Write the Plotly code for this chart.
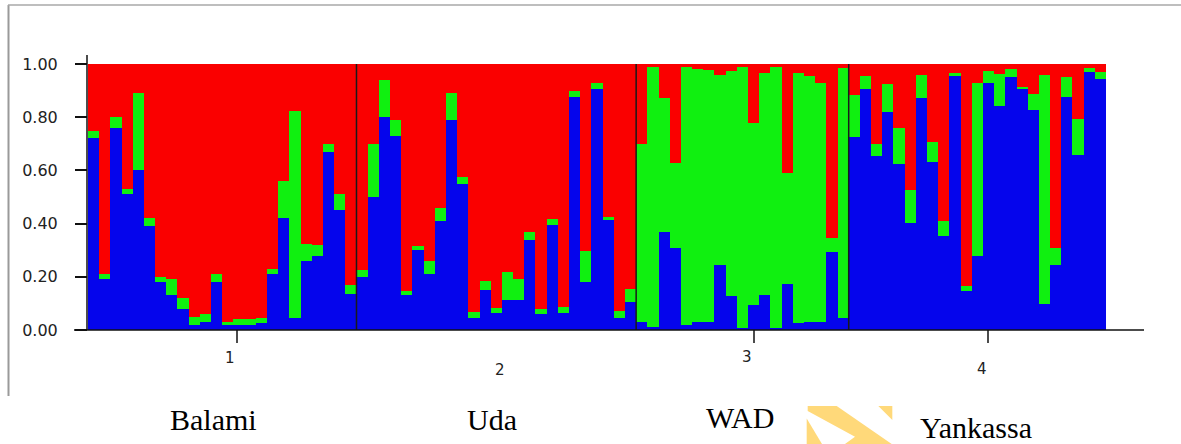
import plotly.graph_objects as go

# ---------------- data (STRUCTURE Q-matrix, K=3) ----------------
# individuals 0-23: Balami, 24-48: Uda, 49-67: WAD, 68-90: Yankassa
blue = [
    # Balami
    0.72, 0.19, 0.76, 0.51, 0.60, 0.39, 0.18, 0.13, 0.08, 0.02, 0.03, 0.18,
    0.02, 0.02, 0.02, 0.025, 0.21, 0.42, 0.045, 0.26, 0.28, 0.67, 0.45, 0.135,
    # Uda
    0.20, 0.50, 0.80, 0.73, 0.13, 0.30, 0.21, 0.41, 0.79, 0.55, 0.044, 0.15,
    0.065, 0.113, 0.113, 0.34, 0.06, 0.396, 0.065, 0.877, 0.182, 0.906, 0.413,
    0.044, 0.107,
    # WAD
    0.03, 0.01, 0.37, 0.308, 0.02, 0.03, 0.03, 0.245, 0.126, 0.006, 0.094,
    0.132, 0.006, 0.172, 0.025, 0.03, 0.03, 0.293, 0.044,
    # Yankassa
    0.726, 0.906, 0.654, 0.818, 0.625, 0.403, 0.874, 0.633, 0.352, 0.956,
    0.145, 0.28, 0.93, 0.843, 0.952, 0.906, 0.826, 0.097, 0.245, 0.877,
    0.658, 0.969, 0.943,
]
green = [
    # Balami
    0.03, 0.02, 0.04, 0.02, 0.29, 0.03, 0.02, 0.06, 0.04, 0.03, 0.03, 0.03,
    0.01, 0.02, 0.02, 0.02, 0.02, 0.14, 0.78, 0.065, 0.04, 0.03, 0.06, 0.035,
    # Uda
    0.025, 0.20, 0.14, 0.06, 0.015, 0.015, 0.05, 0.05, 0.10, 0.025, 0.022,
    0.035, 0.017, 0.105, 0.08, 0.027, 0.018, 0.02, 0.022, 0.023, 0.114,
    0.024, 0.012, 0.028, 0.046,
    # WAD
    0.67, 0.98, 0.504, 0.321, 0.967, 0.95, 0.947, 0.715, 0.849, 0.981, 0.683,
    0.833, 0.983, 0.419, 0.943, 0.926, 0.897, 0.053, 0.941,
    # Yankassa
    0.159, 0.05, 0.044, 0.107, 0.136, 0.122, 0.086, 0.075, 0.057, 0.009,
    0.022, 0.65, 0.045, 0.119, 0.029, 0.006, 0.063, 0.863, 0.065, 0.075,
    0.134, 0.016, 0.026,
]
red = [round(1 - b - g, 3) for b, g in zip(blue, green)]

group_sizes = [24, 25, 19, 23]
group_ticks = ["1", "2", "3", "4"]
group_names = ["Balami", "Uda", "WAD", "Yankassa"]
y_ticks = [0.0, 0.2, 0.4, 0.6, 0.8, 1.0]
y_ticktext = ["0.00", "0.20", "0.40", "0.60", "0.80", "1.00"]

# ---------------- layout geometry (pixels) ----------------
W, H = 1181, 444
L, R, T, B = 88, 75, 64, 114
PW, PH = W - L - R, H - T - B


def px(xp):
    return (xp - L) / PW


def py(yp):
    return (H - B - yp) / PH


n = len(blue)
xs = list(range(n))
BLUE, GREEN, RED = "#0505EC", "#10F010", "#FA0000"

fig = go.Figure()
for vals, col, nm in [(blue, BLUE, "cluster 1"), (green, GREEN, "cluster 2"), (red, RED, "cluster 3")]:
    fig.add_trace(go.Bar(x=xs, y=vals, name=nm, marker=dict(color=col, line=dict(width=0)),
                         width=1.0, showlegend=False, hoverinfo="skip"))

shapes = []
# group separators
edge = -0.5
for s in group_sizes[:-1]:
    edge += s
    shapes.append(dict(type="line", xref="x", yref="y", x0=edge, x1=edge, y0=0, y1=1,
                       line=dict(color="#1a1a1a", width=1.5)))
# x axis line
shapes.append(dict(type="line", xref="paper", yref="paper", x0=px(74), x1=px(1144), y0=0, y1=0,
                   line=dict(color="#111", width=1.5)))
# y axis line (extends above 1.0)
shapes.append(dict(type="line", xref="paper", yref="paper", x0=px(87), x1=px(87), y0=0, y1=py(55),
                   line=dict(color="#111", width=1.5)))
# x tick marks
for tx in [237, 754, 988]:
    shapes.append(dict(type="line", xref="paper", yref="paper", x0=px(tx), x1=px(tx), y0=0, y1=py(343),
                       line=dict(color="#111", width=1.5)))
# frame of screenshot
shapes.append(dict(type="line", xref="paper", yref="paper", x0=px(8.5), x1=px(8.5), y0=py(5), y1=py(396),
                   line=dict(color="#9a9a9a", width=2)))
shapes.append(dict(type="line", xref="paper", yref="paper", x0=px(8), x1=px(1181), y0=py(5), y1=py(5),
                   line=dict(color="#a8a8a8", width=1.5)))


def poly(pts):
    return "M " + " L ".join(f"{px(a):.5f},{py(b):.5f}" for a, b in pts) + " Z"


WM = "#FFD97A"
for pts in [
    [(807.7, 406), (836.7, 406), (891.7, 444), (845, 444), (855, 436.7), (807.7, 411)],
    [(806.7, 418.5), (822, 444), (806.7, 444)],
    [(878.3, 406), (892.3, 406), (892.3, 420)],
]:
    shapes.append(dict(type="path", xref="paper", yref="paper", path=poly(pts),
                       fillcolor=WM, line=dict(width=0), layer="above"))

annotations = []
for t, (xp, yp) in zip(group_ticks, [(230, 358), (500, 370), (747, 357), (982, 369)]):
    annotations.append(dict(text=t, xref="paper", yref="paper", x=px(xp), y=py(yp),
                            xanchor="center", yanchor="middle", showarrow=False,
                            font=dict(family="DejaVu Sans", size=15, color="#222")))
for t, (xp, yp) in zip(group_names, [(213, 419), (492, 419), (740, 417.5), (976, 427)]):
    annotations.append(dict(text=t, xref="paper", yref="paper", x=px(xp), y=py(yp),
                            xanchor="center", yanchor="middle", showarrow=False,
                            font=dict(family="Liberation Serif", size=30, color="#000")))

fig.update_layout(
    width=W, height=H,
    margin=dict(l=L, r=R, t=T, b=B, pad=0),
    paper_bgcolor="white", plot_bgcolor="white",
    barmode="stack", bargap=0,
    xaxis=dict(range=[-0.5, n - 0.5], showticklabels=False, showgrid=False, zeroline=False,
               showline=False, ticks=""),
    yaxis=dict(range=[0, 1], tickvals=y_ticks, ticktext=y_ticktext, ticks="outside", ticklen=12,
               tickwidth=1.5, tickcolor="#111", showgrid=False, zeroline=False, showline=False,
               ticklabelstandoff=14,
               tickfont=dict(family="DejaVu Sans", size=16, color="#222")),
    shapes=shapes, annotations=annotations,
)

fig.write_html("out.html", config={"displayModeBar": False},
               post_script="document.body.style.margin='0';document.body.style.overflow='hidden';")
